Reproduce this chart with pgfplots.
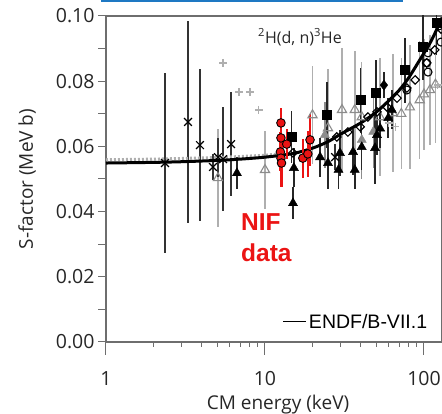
\documentclass[border=0pt]{standalone}
\usepackage{fontspec}
\setmainfont{Open Sans}
\newfontfamily\arialfont{Liberation Sans}
\usepackage{pgfplots}
\usepackage{pgfplotstable}
\pgfplotsset{compat=1.18}
\definecolor{nifred}{RGB}{235,20,20}
\definecolor{topblue}{RGB}{30,120,195}
\definecolor{axgray}{RGB}{110,110,110}
\definecolor{lgray}{RGB}{175,175,175}
\definecolor{mgray}{RGB}{140,140,140}

\pgfplotstableread{
E S e
2.35 0.0549 0.0276
3.28 0.0675 0.0310
3.90 0.0604 0.0234
4.71 0.0537 0.0040
5.06 0.0567 0.0060
5.45 0.0561 0.0160
6.12 0.0607 0.0160
27.6 0.0567 0.0040
}\dataX

\pgfplotstableread{
E S
5.45 0.0856
6.86 0.0767
8.04 0.0767
9.14 0.0712
60.0 0.0672
66.0 0.0660
122 0.0788
}\dataPlus

\pgfplotstableread{
E S e
5.06 0.0503 0.0150
10.0 0.0528 0.0120
19.9 0.0696 0.0150
24.9 0.0656 0.0180
30.5 0.0712 0.0190
36.7 0.0712 0.0180
40.6 0.0690 0.0170
52.9 0.0690 0.0180
63.7 0.0702 0.0180
72.0 0.0700 0.0170
81.5 0.0720 0.0190
94.0 0.0742 0.0180
100.0 0.0760 0.0170
109 0.0773 0.0170
118 0.0790 0.0180
}\dataTriOpen

\pgfplotstableread{
E S e
23.8 0.0635 0.0100
40.6 0.0620 0.0120
48.0 0.0645 0.0110
}\dataTriGrey

\pgfplotstableread{
E S e
6.66 0.0518 0.0050
15.0 0.0426 0.0050
15.2 0.0534 0.0060
22.2 0.0567 0.0060
24.9 0.0549 0.0080
29.0 0.0528 0.0060
29.6 0.0580 0.0070
35.8 0.0583 0.0070
36.7 0.0528 0.0060
40.6 0.0598 0.0070
49.2 0.0595 0.0110
50.6 0.0635 0.0060
53.0 0.0655 0.0060
59.6 0.0687 0.0060
62.8 0.0712 0.0060
}\dataTri

\pgfplotstableread{
E S e
14.7 0.0629 0.0080
24.5 0.0696 0.0100
39.8 0.0742 0.0100
49.9 0.0764 0.0100
76.0 0.0834 0.0100
98.5 0.0905 0.0100
120 0.0980 0.0100
}\dataSq

\pgfplotstableread{
E S e
56.0 0.0788 0.0040
}\dataDiaFill

\pgfplotstableread{
E S
15.0 0.0580
28.3 0.0629
33.2 0.0644
39.7 0.0660
44.4 0.0690
50.6 0.0706
58.5 0.0721
67.6 0.0748
78.0 0.0779
88.0 0.0804
104 0.0856
117 0.0896
128 0.0960
}\dataDia

\pgfplotstableread{
E S
78.0 0.0773
104 0.0856
106 0.0887
106 0.0828
125 0.0970
128 0.0920
}\dataCirc

\pgfplotstableread{
E S
1 0.0549
2 0.0551
3 0.0553
5 0.0557
7 0.0561
10 0.0567
15 0.0578
20 0.0595
25 0.0615
30 0.0638
40 0.0672
50 0.0705
60 0.0740
70 0.0773
80 0.0810
94 0.0865
110 0.0920
126 0.0980
130 0.0995
}\dataENDF

\pgfplotstableread{
E S
1 0.0559
2 0.0561
3 0.0563
5 0.0566
7 0.0569
10 0.0573
13 0.0578
}\dataDot

\pgfplotstableread{
E S e
12.6 0.0672 0.0045
12.6 0.0626 0.0050
13.7 0.0607 0.0045
12.5 0.0583 0.0060
12.6 0.0564 0.0065
12.7 0.0549 0.0075
17.3 0.0564 0.0060
18.6 0.0577 0.0070
19.2 0.0620 0.0080
}\dataNIF

\begin{document}
\begin{tikzpicture}
\useasboundingbox (-106pt,-72pt) rectangle (336pt,342pt);
\begin{axis}[
  scale only axis,
  width=336pt, height=326pt,
  xmode=log,
  xmin=1, xmax=129.8,
  ymin=0, ymax=0.10,
  axis line style={axgray, line width=1.1pt},
  tick align=outside,
  xtick pos=lower, ytick pos=left,
  xtick={1,10,100}, xticklabels={1,10,100},
  ytick={0,0.02,0.04,0.06,0.08,0.10},
  minor ytick={0.01,0.03,0.05,0.07,0.09},
  major tick length=8pt,
  minor tick length=8pt,
  xtick style={axgray, line width=1pt, /pgfplots/major tick length=13pt, /pgfplots/minor tick length=5pt},
  ytick style={axgray, line width=1pt},
  yticklabel style={/pgf/number format/.cd, fixed, fixed zerofill, precision=2, assume math mode=true},
  xticklabel style={/pgf/number format/assume math mode=true, yshift=-18pt},
  ticklabel style={font=\fontsize{19.5}{22}\selectfont, text=black!85},
  legend style={draw=none, fill=none, at={(axis description cs:0.525,0.062)}, anchor=west, inner sep=0pt,
    font=\arialfont\fontsize{19.5}{21}\selectfont},
  legend image code/.code={\draw[black, line width=1.4pt] (0pt,0pt) -- (23pt,0pt);},
  error bars/error mark=none,
]
% grey open triangles
\addplot[forget plot, only marks, mark=triangle, mark size=5.3pt, mgray, mark options={line width=1.1pt, fill=white},
  error bars/.cd, y dir=both, y explicit, error bar style={lgray, line width=1.5pt}]
  table[x=E, y=S, y error=e]{\dataTriOpen};
% grey filled triangles
\addplot[forget plot, only marks, mark=triangle*, mark size=5.3pt, mgray,
  error bars/.cd, y dir=both, y explicit, error bar style={mgray, line width=1.5pt}]
  table[x=E, y=S, y error=e]{\dataTriGrey};
% grey plus
\addplot[forget plot, only marks, mark=+, mark size=4pt, lgray, line width=1.3pt] table[x=E, y=S]{\dataPlus};
% X marks
\addplot[forget plot, only marks, mark=x, mark size=5.5pt, black, mark options={line width=1.2pt},
  error bars/.cd, y dir=both, y explicit, error bar style={black!80, line width=1.5pt}]
  table[x=E, y=S, y error=e]{\dataX};
% black triangles
\addplot[forget plot, only marks, mark=triangle*, mark size=5.3pt, black,
  error bars/.cd, y dir=both, y explicit, error bar style={black!85, line width=1.5pt}]
  table[x=E, y=S, y error=e]{\dataTri};
% squares
\addplot[forget plot, only marks, mark=square*, mark size=4.5pt, black,
  error bars/.cd, y dir=both, y explicit, error bar style={black!85, line width=1.5pt}]
  table[x=E, y=S, y error=e]{\dataSq};
% filled diamond
\addplot[forget plot, only marks, mark=diamond*, mark size=5pt, black,
  error bars/.cd, y dir=both, y explicit, error bar style={black!85, line width=1.5pt}]
  table[x=E, y=S, y error=e]{\dataDiaFill};
% open diamonds
\addplot[forget plot, only marks, mark=square, mark size=3pt, black, mark options={rotate=45, line width=1.1pt, fill=white}]
  table[x=E, y=S]{\dataDia};
% open circles
\addplot[forget plot, only marks, mark=o, mark size=4pt, black, mark options={line width=1.1pt}]
  table[x=E, y=S]{\dataCirc};
% grey dotted evaluation
\addplot[forget plot, lgray, line width=3pt, dash pattern=on 2pt off 2pt, smooth] table[x=E, y=S]{\dataDot};
% ENDF curve
\addplot[black, line width=3pt, smooth] table[x=E, y=S]{\dataENDF};
\addlegendentry{ENDF/B-VII.1}
% NIF data
\addplot[forget plot, only marks, mark=*, mark size=4.3pt, nifred, mark options={draw=black, fill=nifred, line width=0.9pt},
  error bars/.cd, y dir=both, y explicit, error bar style={nifred, line width=2.4pt}]
  table[x=E, y=S, y error=e]{\dataNIF};
\node[anchor=center, font=\fontsize{16}{18}\selectfont, text=black!85] at (axis cs:16.6,0.0935)
  {\textsuperscript{2}H(d, n)\textsuperscript{3}He};
\node[anchor=north west, inner sep=0pt, align=left, text=nifred, font=\arialfont\bfseries\fontsize{24.5}{31}\selectfont]
  at (axis cs:7.07,0.0395) {NIF\\data};
\end{axis}
\node[anchor=center, font=\fontsize{19}{22}\selectfont, text=black!85] at (172pt,-63pt) {CM energy (keV)};
\node[anchor=center, rotate=90, font=\fontsize{19}{22}\selectfont, text=black!85] at (-79pt,163pt) {S-factor (MeV b)};
\draw[topblue, line width=2pt] (-5pt,341pt) -- (297pt,341pt);
\end{tikzpicture}
\end{document}
